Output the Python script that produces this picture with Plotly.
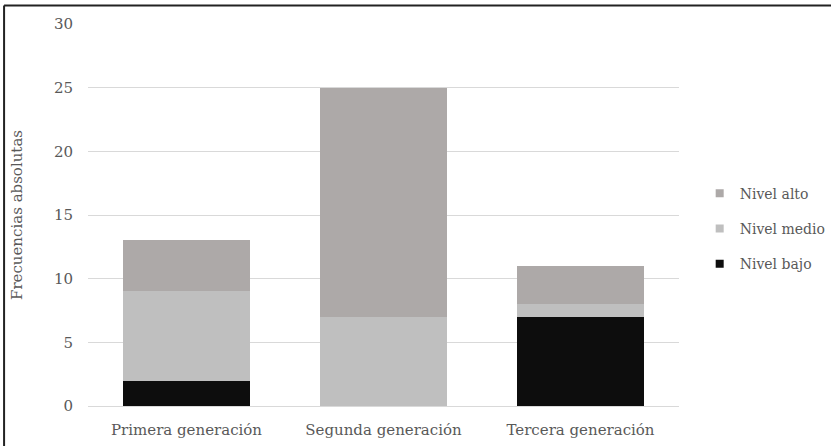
import plotly.graph_objects as go

# Categories and absolute frequencies per level
generaciones = ["Primera generación", "Segunda generación", "Tercera generación"]
nivel_bajo = [2, 0, 7]
nivel_medio = [7, 7, 1]
nivel_alto = [4, 18, 3]

y_ticks = [0, 5, 10, 15, 20, 25, 30]

series = [
    ("Nivel bajo", nivel_bajo, "#0D0D0D"),
    ("Nivel medio", nivel_medio, "#BFBFBF"),
    ("Nivel alto", nivel_alto, "#ADA9A8"),
]

FONT = "DejaVu Serif"
TEXT_COLOR = "#595959"

fig = go.Figure()
for name, values, color in series:
    fig.add_trace(go.Bar(
        x=generaciones, y=values, name=name,
        marker=dict(color=color, line=dict(width=0)),
        showlegend=False,
    ))

# small square legend entries, top to bottom: alto, medio, bajo
for name, values, color in reversed(series):
    fig.add_trace(go.Scatter(
        x=[None], y=[None], mode="markers", name=name,
        marker=dict(symbol="square", size=8, color=color),
        legendgroup=name,
    ))

fig.update_layout(
    barmode="stack",
    bargap=0.36,
    width=831, height=446,
    margin=dict(l=88, r=152, t=24, b=40, autoexpand=False),
    paper_bgcolor="white",
    plot_bgcolor="white",
    font=dict(family=FONT, color=TEXT_COLOR, size=14),
    legend=dict(
        x=1.035, xanchor="left",
        y=0.464, yanchor="middle",
        traceorder="grouped",
        tracegroupgap=14,
        itemwidth=30,
        font=dict(size=14, color=TEXT_COLOR, family=FONT),
        bgcolor="rgba(0,0,0,0)",
    ),
    xaxis=dict(
        automargin=False,
        showgrid=False,
        showline=True, linecolor="#D9D9D9", linewidth=1,
        ticks="", ticklabelstandoff=10,
        tickfont=dict(size=15, color=TEXT_COLOR, family=FONT),
    ),
    yaxis=dict(
        automargin=False,
        range=[0, 30],
        tickvals=y_ticks,
        showgrid=True, gridcolor="#D9D9D9", gridwidth=1,
        zeroline=False, showline=False,
        ticks="", ticklabelstandoff=14,
        tickfont=dict(size=15, color=TEXT_COLOR, family=FONT),
        title=dict(text="Frecuencias absolutas", standoff=27,
                   font=dict(size=15, color=TEXT_COLOR, family=FONT)),
    ),
    shapes=[
        # outer frame (top and left edges)
        dict(type="line", xref="paper", yref="paper",
             x0=-0.142, x1=1.4, y0=1.0485, y1=1.0485,
             line=dict(color="#222222", width=2)),
        dict(type="line", xref="paper", yref="paper",
             x0=-0.142, x1=-0.142, y0=-0.2, y1=1.0485,
             line=dict(color="#222222", width=2)),
    ],
)

fig.write_html("out.html")
